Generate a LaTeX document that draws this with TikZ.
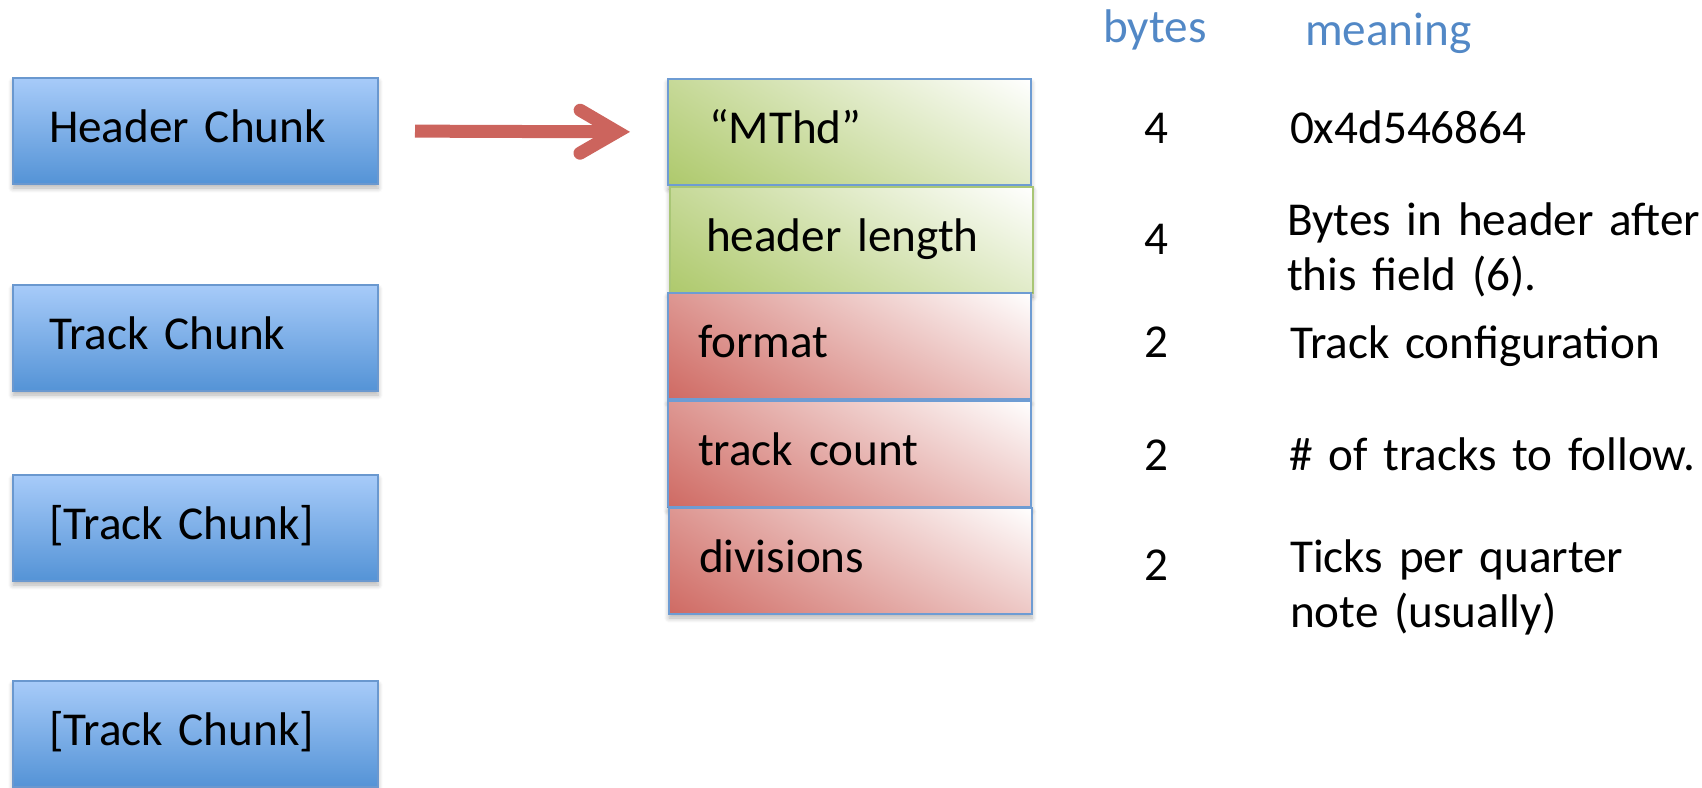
\documentclass[tikz,border=0pt]{standalone}
\usepackage{fontspec}
\setmainfont{Carlito}[WordSpace=0.85]
\usetikzlibrary{arrows.meta,shadows.blur,shadings}

\definecolor{chunktop}{HTML}{A7CBF9}
\definecolor{chunkbot}{HTML}{5493D6}
\definecolor{chunkedge}{HTML}{6A98CF}
\definecolor{fieldedge}{HTML}{6E9CD3}
\definecolor{lenedge}{HTML}{A9C676}
\definecolor{greendeep}{HTML}{AEC96C}
\definecolor{reddeep}{HTML}{CF6A63}
\definecolor{arrowred}{HTML}{CC645D}
\definecolor{headblue}{HTML}{5288C6}

\begin{document}
\begin{tikzpicture}[x=0.5pt,y=-0.5pt,
  every node/.style={font=\fontsize{23.6}{27.5}\selectfont,inner sep=0pt,outer sep=0pt},
  soft shadow/.style={blur shadow={shadow xshift=0pt,shadow yshift=-2pt,
      shadow blur radius=2.5pt,shadow blur steps=6,shadow opacity=30}},
  chunk/.style={anchor=north west,draw=chunkedge,line width=0.8pt,
      top color=chunktop,bottom color=chunkbot,soft shadow,
      minimum width=182.5pt,minimum height=53pt,
      inner xsep=18pt,inner ysep=0pt,text width=146.5pt,align=left,
      text height=32pt,text depth=21pt},
  field/.style={anchor=north west,line width=0.8pt,soft shadow,
      minimum height=53pt,inner ysep=0pt,align=left,
      text height=32pt,text depth=21pt},
  greenfield/.style={field,lower left=greendeep,upper right=white,
      upper left=greendeep!70!white,lower right=greendeep!37!white},
  redfield/.style={field,lower left=reddeep,upper right=white,
      upper left=reddeep!70!white,lower right=reddeep!37!white},
  colhead/.style={anchor=base west,text=headblue},
  count/.style={anchor=base},
  meaning/.style={anchor=base west,text width=250pt,align=left,
      execute at begin node={\hyphenpenalty=10000\relax}},
]
\useasboundingbox (0,0) rectangle (1702,787);

% chunks of the file
\node[chunk] (hdr)  at (13,78)  {Header Chunk};
\node[chunk] (trk)  at (13,285) {Track Chunk};
\node[chunk] (opt1) at (13,475) {[Track Chunk]};
\node[chunk] (opt2) at (13,681) {[Track Chunk]};

% fields of the header chunk
\node[greenfield,draw=fieldedge,inner xsep=20.5pt,text width=140.5pt] (mthd) at (668,79) {“MThd”};
\node[greenfield,draw=lenedge,inner xsep=18pt,text width=145.5pt] (hlen) at (670,187) {header length};
\node[redfield,draw=fieldedge,inner xsep=15pt,text width=151.5pt] (fmt) at (668,293) {format};
\node[redfield,draw=fieldedge,inner xsep=15pt,text width=151.5pt] (tcnt) at (668,401) {track count};
\node[redfield,draw=fieldedge,inner xsep=15pt,text width=151.5pt] (div) at (669,508) {divisions};

% expansion arrow
\draw[arrowred,line width=6.5pt,shorten <=18.5pt,shorten >=19pt,
  -{Straight Barb[length=18.5pt,width=21.5pt,line cap=round,line join=miter]}]
  (hdr.east) -- (mthd.west);

% sizes and meanings
\node[colhead] (hbytes) at (1103,42) {bytes};
\node[colhead] (hmean)  at (1305,45) {meaning};
\node[count] (n1) at (1156,143) {4};
\node[meaning] (m1) at (1290,143) {0x4d546864};
\node[count] (n2) at (1156,254) {4};
\node[meaning] (m2) at (1287,235) {Bytes in header after\\this field (6).};
\node[count] (n3) at (1156,357) {2};
\node[meaning] (m3) at (1290,358) {Track configuration};
\node[count] (n4) at (1156,470) {2};
\node[meaning] (m4) at (1289,470) {\# of tracks to follow.};
\node[count] (n5) at (1156,580) {2};
\node[meaning] (m5) at (1290,572) {Ticks per quarter\\note (usually)};
\end{tikzpicture}
\end{document}
